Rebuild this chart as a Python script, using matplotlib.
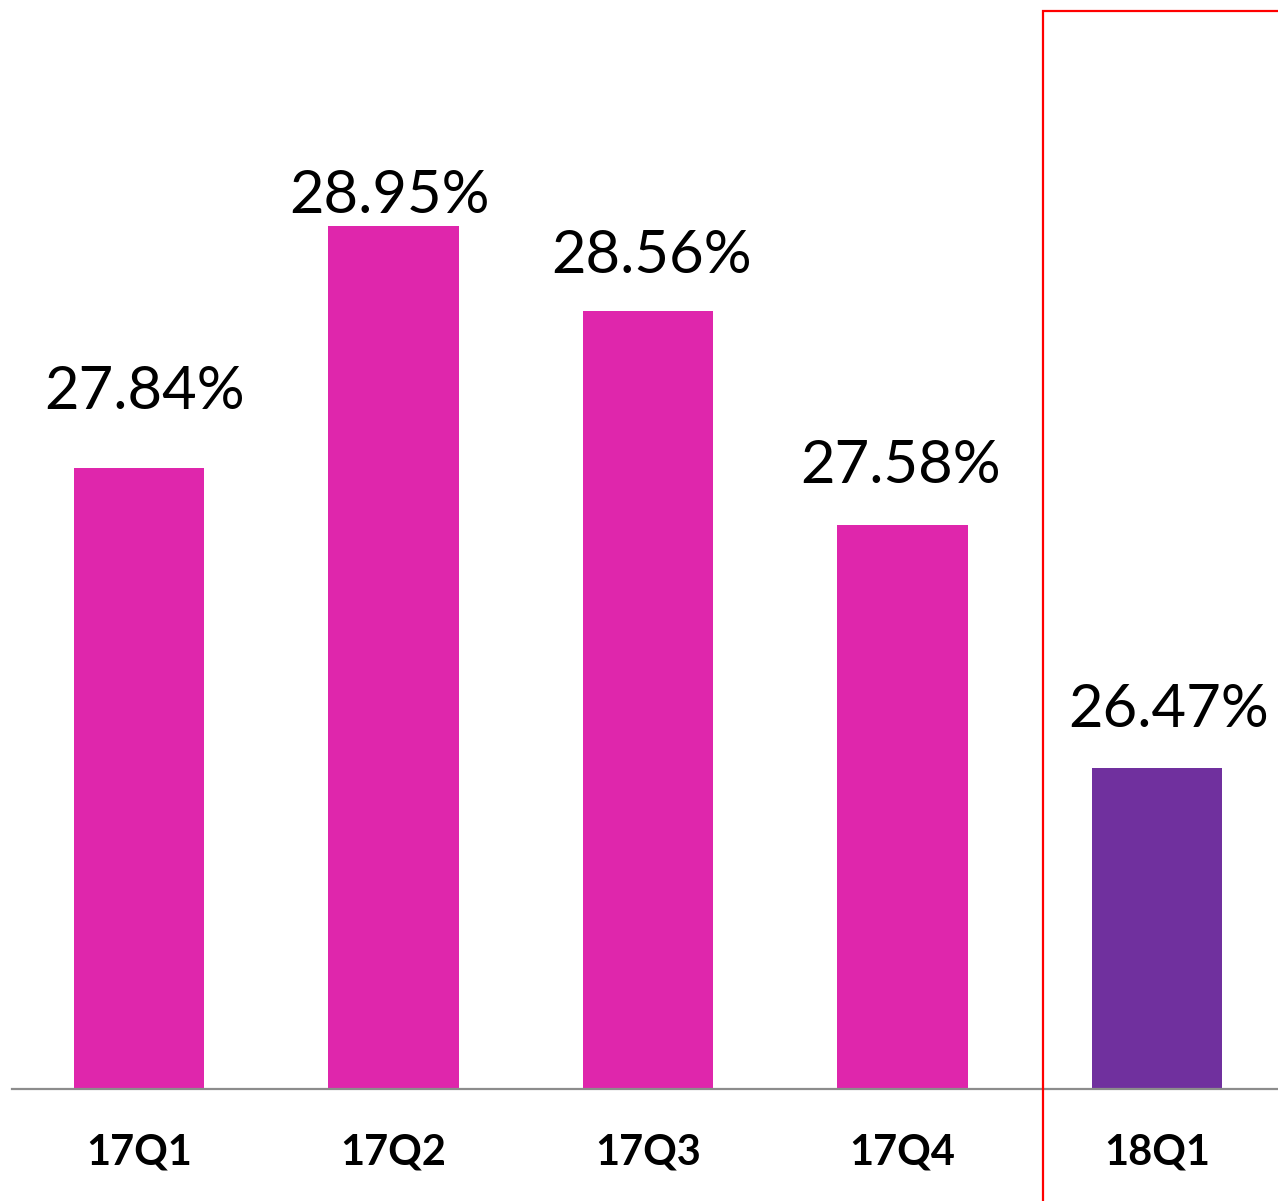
import matplotlib
matplotlib.use("Agg")
import matplotlib.pyplot as plt
from matplotlib.patches import Rectangle
from matplotlib.transforms import offset_copy

quarters = ["17Q1", "17Q2", "17Q3", "17Q4", "18Q1"]
rates = [27.84, 28.95, 28.56, 27.58, 26.47]
bar_colors = ["#DF26AC", "#DF26AC", "#DF26AC", "#DF26AC", "#70309E"]

# labels were nudged by hand in the original, offsets in points
label_dx = [4.3, -2.9, 2.9, -1.4, 8.6]
label_dy = [42.5, 9.4, 27.4, 30.2, 29.5]

W, H = 1278, 1201
fig = plt.figure(figsize=(W / 100, H / 100), dpi=100)
ax = fig.add_axes([11.75 / W, (H - 1089) / H, 1272.5 / W, 1092.5 / H])

x = list(range(len(quarters)))
ax.bar(x, rates, width=0.511, color=bar_colors, bottom=0)
ax.set_ylim(25, 30)
ax.set_xlim(-0.5, len(quarters) - 0.5)

# value labels above bars
for xi, v, dx, dy in zip(x, rates, label_dx, label_dy):
    tr = offset_copy(ax.transData, fig=fig, x=dx, y=dy, units="points")
    ax.text(xi, v, f"{v:.2f}%", transform=tr, ha="center", va="baseline",
            fontsize=43, family="Lato", color="black")

for side in ["top", "right", "left"]:
    ax.spines[side].set_visible(False)
ax.spines["bottom"].set_color("#8C8C8C")
ax.spines["bottom"].set_linewidth(1.6)
ax.set_yticks([])
ax.set_xticks(x)
ax.set_xticklabels(quarters, fontsize=30, fontweight="bold", family="Lato")
ax.tick_params(axis="x", length=0, pad=32)

# red highlight box around the latest quarter
fig.patches.append(Rectangle((1043 / W, -0.05), 0.5, (H - 11) / H + 0.05,
                             transform=fig.transFigure, fill=False,
                             edgecolor="#FF0000", linewidth=1.6, clip_on=False))

fig.savefig("out.png", dpi=100)
